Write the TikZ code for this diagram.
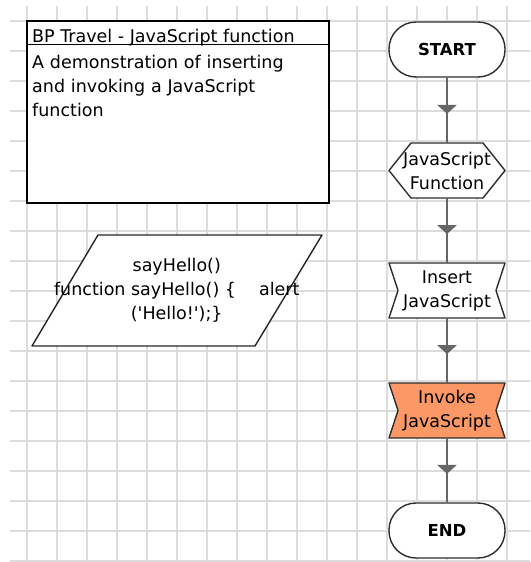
\documentclass[tikz,border=0pt]{standalone}
\usepackage{fontspec}
\setmainfont{DejaVu Sans}
\usetikzlibrary{decorations.markings}
\pgfdeclarelayer{gridlayer}
\pgfdeclarelayer{shapelayer}
\pgfsetlayers{gridlayer,shapelayer,main}
\definecolor{gridgrey}{RGB}{220,220,220}
\definecolor{linegrey}{RGB}{102,102,102}
\definecolor{edgegrey}{RGB}{45,45,45}
\definecolor{invokeorange}{RGB}{252,152,102}
\begin{document}
\begin{tikzpicture}[x=1pt,y=-1pt,
  gridline/.style={draw=gridgrey, line width=1.5pt},
  txt/.style={font=\fontsize{17.5}{24}\selectfont, inner sep=0pt, text=black},
  flownode/.style={txt, align=center, minimum width=116pt, minimum height=55pt},
  termtext/.style={font=\fontsize{16.5}{24}\selectfont\bfseries},
  outline/.style={draw=edgegrey, line width=1.4pt, fill=white, line join=round},
  flowarrow/.style={draw=linegrey, line width=1.8pt, postaction={decorate},
    decoration={markings, mark=at position 0.5 with {\fill[linegrey] (-5.5pt,-10pt) -- (-5.5pt,10pt) -- (3.5pt,0pt) -- cycle;}}}
]
\useasboundingbox (0,0) rectangle (530,562);
\begin{pgfonlayer}{gridlayer}
  \fill[white] (0,0) rectangle (530,562);
  \foreach \i in {0,...,16} \draw[gridline] ({27+30*\i},6) -- ({27+30*\i},562);
  \foreach \j in {0,...,18} \draw[gridline] (10,{21+30*\j}) -- (530,{21+30*\j});
\end{pgfonlayer}

% description box
\node[draw=black, line width=1.4pt, fill=white, minimum width=302pt, minimum height=182pt, inner sep=0pt] (desc) at (178,112) {};
\draw[black, line width=1.2pt] ([yshift=-24pt]desc.north west) -- ([yshift=-24pt]desc.north east);
\node[txt, anchor=base west] (title) at (32,42) {BP Travel - JavaScript function};
\node[txt, anchor=base west, text width=290pt, align=left] (body) at (32,68) {A demonstration of inserting\\and invoking a JavaScript\\function};

% code parallelogram
\node[txt, align=center] (code) at (176.75,290.5) {sayHello()\\function sayHello() \{\hspace{23pt}alert\\(\textquotesingle Hello!\textquotesingle);\}};
\begin{pgfonlayer}{shapelayer}
  \draw[outline, draw=black!85] (98,235) -- (322,235) -- (255,346) -- (32,346) -- cycle;
\end{pgfonlayer}

% flow
\node[flownode, termtext, outline, rounded corners=27pt] (start) at (447,49.5) {START};
\node[flownode] (jsfunc) at (447,170.5) {JavaScript\\Function};
\node[flownode] (insert) at (447,290.5) {Insert\\JavaScript};
\node[flownode] (invoke) at (447,410.5) {Invoke\\JavaScript};
\node[flownode, termtext, outline, rounded corners=27pt] (end) at (447,530.5) {END};

\begin{pgfonlayer}{shapelayer}
  \begin{scope}[shift={(jsfunc.center)}]
    \draw[outline] (-58,0) -- (-36,-27.5) -- (36,-27.5) -- (58,0) -- (36,27.5) -- (-36,27.5) -- cycle;
  \end{scope}
  \begin{scope}[shift={(insert.center)}]
    \draw[outline] (-58,-27.5) -- (58,-27.5) -- (49,0) -- (58,27.5) -- (-58,27.5) -- (-49,0) -- cycle;
  \end{scope}
  \begin{scope}[shift={(invoke.center)}]
    \draw[outline, fill=invokeorange] (-58,-27.5) -- (58,-27.5) -- (49,0) -- (58,27.5) -- (-58,27.5) -- (-49,0) -- cycle;
  \end{scope}
\end{pgfonlayer}

\draw[flowarrow] (start.south) -- (jsfunc.north);
\draw[flowarrow] (jsfunc.south) -- (insert.north);
\draw[flowarrow] (insert.south) -- (invoke.north);
\draw[flowarrow] (invoke.south) -- (end.north);
\end{tikzpicture}
\end{document}
